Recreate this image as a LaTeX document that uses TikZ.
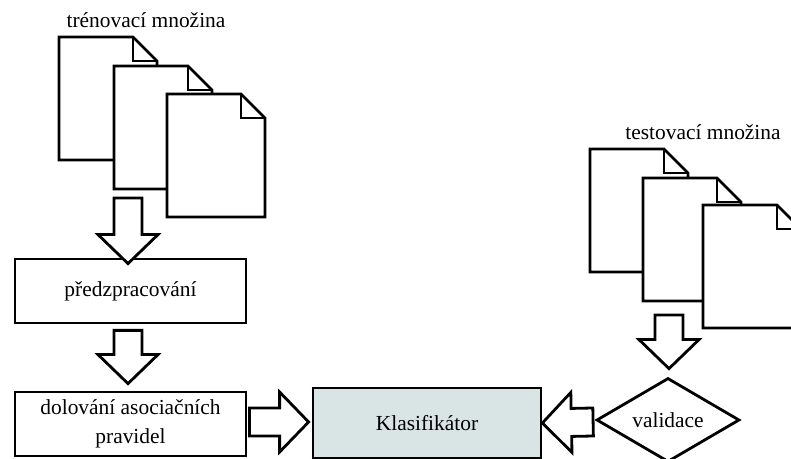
\documentclass[tikz,border=0pt]{standalone}
\usepackage{fontspec}
\setmainfont{Liberation Serif}
\usetikzlibrary{calc,shapes.geometric}

\definecolor{klasfill}{RGB}{217,228,228}

\tikzset{
  x=1bp, y=-1bp,
  every node/.style={font=\fontsize{21.5}{29}\selectfont, align=center, inner sep=0pt},
  lw/.style={line width=2.8bp, line join=miter},
  procbox/.style={lw, draw=black, fill=white, rectangle},
  % hollow block arrow from the start point to the tip
  blockarrow/.style={lw, draw=black, fill=white, to path={
    ($(\tikztostart)!14bp!90:(\tikztotarget)$) --
    ($(\tikztotarget)!29bp!(\tikztostart)!14bp!90:(\tikztotarget)$) --
    ($(\tikztotarget)!29bp!(\tikztostart)!30bp!90:(\tikztotarget)$) --
    (\tikztotarget) --
    ($(\tikztotarget)!29bp!(\tikztostart)!30bp!-90:(\tikztotarget)$) --
    ($(\tikztotarget)!29bp!(\tikztostart)!14bp!-90:(\tikztotarget)$) --
    ($(\tikztostart)!14bp!-90:(\tikztotarget)$) -- cycle}},
  % a sheet of paper with a folded corner, anchored at its top left corner
  docsheet/.pic={
    \draw[lw, fill=white] (0,0) -- (74,0) -- (98,24) -- (98,123) -- (0,123) -- cycle;
    \draw[lw] (74,0) -- (74,24) -- (98,24);
  }
}

\begin{document}
\begin{tikzpicture}
\useasboundingbox (0,0) rectangle (791,459);
\clip (0,0) rectangle (791,459);

% training set
\node (trlabel) at (146,20) {trénovací množina};
\pic at (59,37) {docsheet};
\pic at (114,66) {docsheet};
\pic at (167,94) {docsheet};

% testing set
\node (tslabel) at (703,132) {testovací množina};
\pic at (590,149) {docsheet};
\pic at (643,178) {docsheet};
\pic at (703,205) {docsheet};

% processing steps
\node[procbox, minimum width=231bp, minimum height=64bp] (pre) at (130.5,291) {předzpracování};
\node[procbox, minimum width=231bp, minimum height=64bp] (dol) at (130.5,424) {dolování asociačních\\pravidel};
\node[procbox, fill=klasfill, minimum width=228bp, minimum height=70bp] (klas) at (427,423) {Klasifikátor};
\node[lw, draw=black, fill=white, diamond, aspect=1.69, minimum width=143bp, minimum height=84bp] (val) at (668,420) {validace};

% arrow end points
\coordinate (a1s) at (128,198);
\coordinate (a1e) at ($(pre.north)+(-2.5,6)$);
\coordinate (a2s) at ($(pre.south)+(-2.5,6)$);
\coordinate (a2e) at ($(dol.north)+(-2.5,-7)$);
\coordinate (a3s) at ($(dol.east)+(2,-2)$);
\coordinate (a3e) at ($(klas.west)+(-3,-1)$);
\coordinate (a4s) at ($(val.west)+(-2,2)$);
\coordinate (a4e) at ($(klas.east)$);
\coordinate (a5s) at (669,315);
\coordinate (a5e) at ($(val.north)+(1,-8)$);

\draw[blockarrow] (a1s) to (a1e);
\draw[blockarrow] (a2s) to (a2e);
\draw[blockarrow] (a3s) to (a3e);
\draw[blockarrow] (a4s) to (a4e);
\draw[blockarrow] (a5s) to (a5e);
\end{tikzpicture}
\end{document}
